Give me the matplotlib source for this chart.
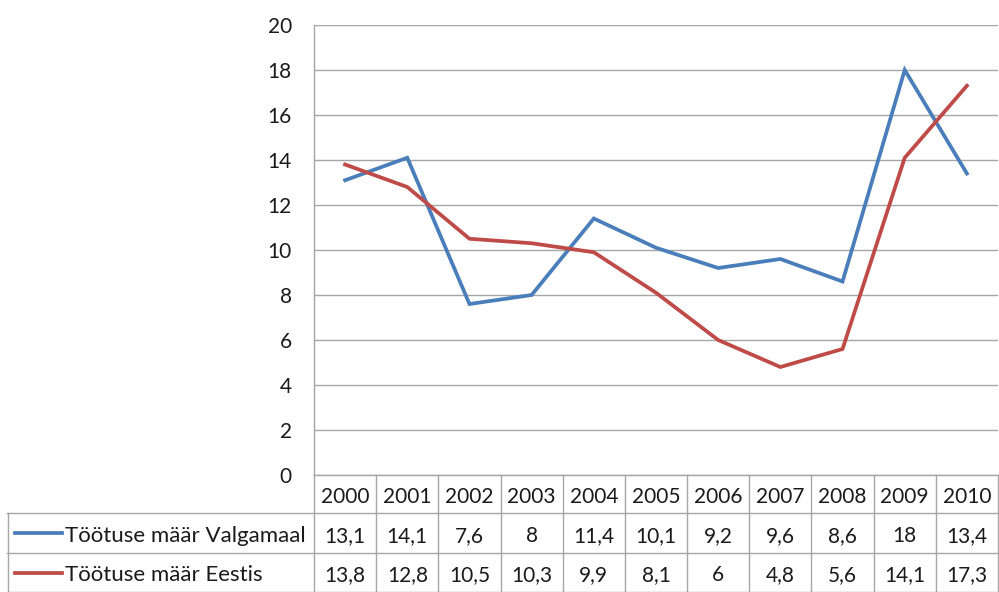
import matplotlib
matplotlib.use("Agg")
import matplotlib.pyplot as plt
import matplotlib.transforms as mtransforms

years = ["2000", "2001", "2002", "2003", "2004", "2005", "2006", "2007", "2008", "2009", "2010"]
valga = [13.1, 14.1, 7.6, 8, 11.4, 10.1, 9.2, 9.6, 8.6, 18, 13.4]
eesti = [13.8, 12.8, 10.5, 10.3, 9.9, 8.1, 6, 4.8, 5.6, 14.1, 17.3]
series_names = ["Töötuse määr Valgamaal", "Töötuse määr Eestis"]
yticks = [0, 2, 4, 6, 8, 10, 12, 14, 16, 18, 20]

blue = "#4A7EBB"
red = "#BE4B48"
grid = "#A6A6A6"
font = "Lato"
fs = 15
txtc = "#1a1a1a"

W, H = 999, 592
fig = plt.figure(figsize=(W / 100, H / 100), dpi=100)
ax = fig.add_axes([314 / W, 1 - 475 / H, (998 - 314) / W, 450 / H])
x = list(range(len(years)))
ax.plot(x, valga, color=blue, lw=2.7, solid_joinstyle="miter", zorder=3)
ax.plot(x, eesti, color=red, lw=2.7, solid_joinstyle="miter", zorder=3)
ax.set_xlim(-0.5, len(years) - 0.5)
ax.set_ylim(0, 20)
ax.set_yticks(yticks)
ax.set_yticklabels([str(v) for v in yticks], fontfamily=font, fontsize=fs, color=txtc)
ax.tick_params(axis="y", length=0, pad=16)
ax.set_xticks([])
for s in ["top", "right", "bottom"]:
    ax.spines[s].set_visible(False)
ax.spines["left"].set_color(grid)
ax.spines["left"].set_linewidth(1)
ax.grid(axis="y", color=grid, lw=1)
ax.set_axisbelow(True)

trans = mtransforms.blended_transform_factory(ax.transData, fig.transFigure)

def fy(p):
    return 1 - p / H

lw_t = 1
ax.plot([-0.5, 10.5], [fy(475)] * 2, transform=trans, color=grid, lw=lw_t, clip_on=False)
for yy in [513, 553, 591.5]:
    fig.add_artist(plt.Line2D([7 / W, 998.5 / W], [fy(yy)] * 2, color=grid, lw=lw_t))
fig.add_artist(plt.Line2D([7.5 / W, 7.5 / W], [fy(513), fy(592)], color=grid, lw=lw_t))
for i in range(len(years) + 1):
    ax.plot([i - 0.5, i - 0.5], [fy(475), fy(592)], transform=trans, color=grid, lw=lw_t, clip_on=False)

for i, yr in enumerate(years):
    ax.text(i, fy(503), yr, transform=trans, ha="center", va="baseline", fontfamily=font, fontsize=fs, color=txtc)
for vals, yb in [(valga, 542), (eesti, 581)]:
    for i, v in enumerate(vals):
        s = (f"{v:g}").replace(".", ",")
        ax.text(i, fy(yb), s, transform=trans, ha="center", va="baseline", fontfamily=font, fontsize=fs, color=txtc)

for name, col, yc, yb in [(series_names[0], blue, 533, 542), (series_names[1], red, 573, 581)]:
    fig.add_artist(plt.Line2D([15 / W, 62 / W], [fy(yc)] * 2, color=col, lw=2.7))
    fig.text(65 / W, fy(yb), name, ha="left", va="baseline", fontfamily=font, fontsize=16, color=txtc)

fig.savefig("out.png", dpi=100)
